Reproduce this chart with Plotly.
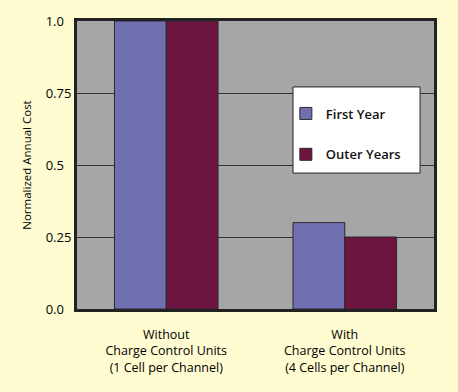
import plotly.graph_objects as go

categories = ["Without<br>Charge Control Units<br>(1 Cell per Channel)",
              "With<br>Charge Control Units<br>(4 Cells per Channel)"]
first_year = [1.0, 0.3]
outer_years = [1.0, 0.25]
tick_vals = [0.0, 0.25, 0.5, 0.75, 1.0]
tick_text = ["0.0\u2007", "0.25", "0.5\u2007", "0.75", "1.0\u2007"]

FONT = "Open Sans, Noto Sans, sans-serif"

fig = go.Figure()
fig.add_trace(go.Bar(name="First Year", x=categories, y=first_year,
                     marker=dict(color="#7070B0", line=dict(color="#2a2a2a", width=1)),
                     legendgroup="a"))
fig.add_trace(go.Bar(name="Outer Years", x=categories, y=outer_years,
                     marker=dict(color="#6E1440", line=dict(color="#2a2a2a", width=1)),
                     legendgroup="b"))

# legend frame
fig.add_shape(type="rect", xref="paper", yref="paper",
              x0=0.605, x1=0.961, y0=0.472, y1=0.771,
              fillcolor="white", line=dict(color="#222", width=1), layer="above")

fig.update_layout(
    width=458, height=392,
    margin=dict(l=77, r=24, t=21, b=83),
    paper_bgcolor="#FFFCD2",
    plot_bgcolor="#A6A6A6",
    barmode="group", bargap=0.42, bargroupgap=0,
    font=dict(family=FONT, size=12.5, color="#000"),
    showlegend=True,
    legend=dict(x=0.585, y=0.731, xanchor="left", yanchor="top",
                bgcolor="rgba(0,0,0,0)", borderwidth=0,
                font=dict(family=FONT, size=13, color="#111", weight=600),
                traceorder="grouped", tracegroupgap=21,
                itemwidth=30),
    xaxis=dict(showline=True, linecolor="#222", linewidth=3, mirror=True,
               ticks="", tickfont=dict(size=12.5), ticklabelstandoff=12,
               showgrid=False),
    yaxis=dict(range=[0, 1.0], tickvals=tick_vals, ticktext=tick_text,
               showline=True, linecolor="#222", linewidth=3, mirror=True,
               showgrid=True, gridcolor="#333", gridwidth=1,
               zeroline=False, ticks="", tickfont=dict(size=13),
               title=dict(text="Normalized Annual Cost", font=dict(size=11.5), standoff=12)),
)

fig.write_html("out.html", config={"displayModeBar": False},
               post_script="document.body.style.margin='0';")
